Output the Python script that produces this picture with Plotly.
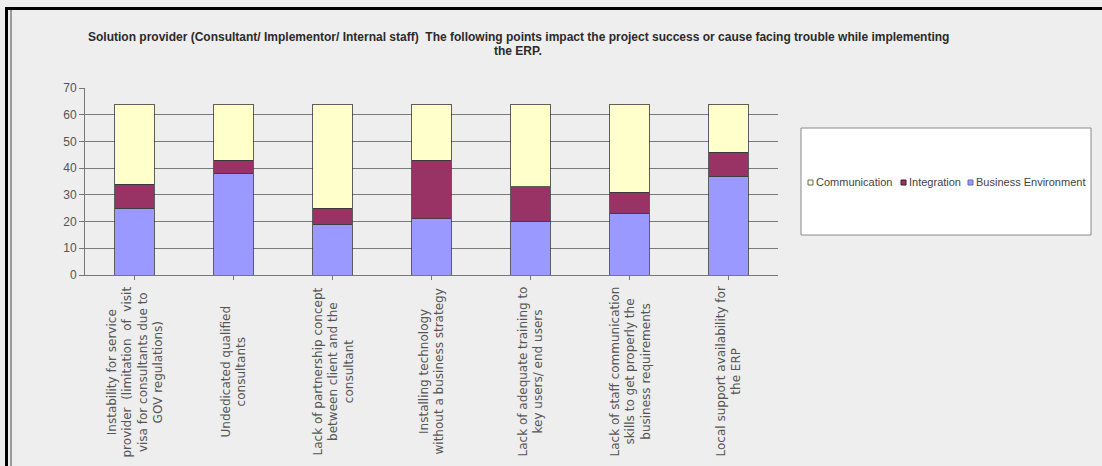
import plotly.graph_objects as go

# ---- data -------------------------------------------------------------
categories = [
    "Instability for service<br>provider  (limitation  of  visit<br>visa for consultants due to<br>GOV regulations)",
    "Undedicated qualified<br>consultants",
    "Lack of partnership concept<br>between client and the<br>consultant",
    "Installing technology<br>without a business strategy",
    "Lack of adequate training to<br>key users/ end users",
    "Lack of staff communication<br>skills to get properly the<br>business requirements",
    "Local support availability for<br>the ERP",
]
business_environment = [25, 38, 19, 21, 20, 23, 37]
integration = [9, 5, 6, 22, 13, 8, 9]
communication = [30, 21, 39, 21, 31, 33, 18]

series_names = ["Business Environment", "Integration", "Communication"]
series_values = [business_environment, integration, communication]
series_colors = ["#9999FF", "#993366", "#FFFFCC"]

y_ticks = [0, 10, 20, 30, 40, 50, 60, 70]

title_lines = [
    "Solution provider (Consultant/ Implementor/ Internal staff)  The following points "
    "impact the project success or cause facing trouble while implementing",
    "the ERP.",
]

# ---- layout geometry (pixels) ----------------------------------------
W, H = 1102, 466
PL, PR, PT, PB = 85, 778, 88, 275
FONT = "Liberation Sans"


def px_x(x):
    return (x - PL) / (PR - PL)


def px_y(y):
    return (PB - y) / (PB - PT)


fig = go.Figure()
for name, vals, col in zip(series_names, series_values, series_colors):
    fig.add_trace(go.Bar(
        x=list(range(len(categories))), y=vals, name=name,
        marker=dict(color=col, line=dict(color="#3a3a3a", width=0.8)),
        width=0.4, showlegend=False,
    ))

shapes = []
annotations = []

# category labels, rotated and centred under each bar
for i, lab in enumerate(categories):
    annotations.append(dict(
        x=i, xref="x", y=px_y(372), yref="paper", text=lab,
        textangle=-90, showarrow=False, xanchor="center", yanchor="middle",
        align="center", font=dict(family="DejaVu Sans", size=12, color="#555555"),
    ))

# title, one annotation per line
for line, ypix in zip(title_lines, [37, 51]):
    annotations.append(dict(
        x=px_x(518), xref="paper", y=px_y(ypix), yref="paper", text=line,
        showarrow=False, xanchor="center", yanchor="middle",
        font=dict(family=FONT, size=12, color="#2a2a2a", weight="bold"),
    ))

# legend box
shapes.append(dict(type="rect", xref="paper", yref="paper",
                   x0=px_x(801), x1=px_x(1091), y0=px_y(235), y1=px_y(128),
                   fillcolor="#FFFFFF", line=dict(color="#8a8a8a", width=1)))
legend_order = [2, 1, 0]
legend_x = [808, 901, 968]
legend_border = ["#666666", "#3a1a2a", "#6666aa"]
for k, idx in enumerate(legend_order):
    x0 = legend_x[k]
    shapes.append(dict(type="rect", xref="paper", yref="paper",
                       x0=px_x(x0), x1=px_x(x0 + 5), y0=px_y(185), y1=px_y(180),
                       fillcolor=series_colors[idx], line=dict(color=legend_border[k], width=1)))
    annotations.append(dict(
        x=px_x(x0 + 6), xref="paper", y=px_y(182), yref="paper",
        text=series_names[idx], showarrow=False, xanchor="left", yanchor="middle",
        font=dict(family=FONT, size=11, color="#444444"),
    ))

# outer frame lines
shapes.append(dict(type="rect", xref="paper", yref="paper",
                   x0=px_x(5), x1=px_x(W + 5), y0=px_y(10), y1=px_y(7),
                   fillcolor="#000000", line=dict(width=0)))
shapes.append(dict(type="rect", xref="paper", yref="paper",
                   x0=px_x(5), x1=px_x(8), y0=px_y(H + 5), y1=px_y(7),
                   fillcolor="#000000", line=dict(width=0)))
shapes.append(dict(type="line", xref="paper", yref="paper",
                   x0=px_x(11), x1=px_x(11), y0=px_y(H + 5), y1=px_y(10),
                   line=dict(color="#9a9a9a", width=2)))

fig.update_layout(
    width=W, height=H,
    margin=dict(l=PL, r=W - PR, t=PT, b=H - PB),
    paper_bgcolor="#EEEEEE", plot_bgcolor="#EEEEEE",
    barmode="stack", bargap=0.6,
    shapes=shapes, annotations=annotations,
    font=dict(family=FONT),
)
fig.update_xaxes(
    range=[-0.5, len(categories) - 0.5], showticklabels=False,
    tickmode="array", tickvals=list(range(len(categories))),
    tickson="boundaries", ticks="outside", ticklen=4, tickcolor="#777777",
    showline=True, linecolor="#777777", linewidth=1, showgrid=False, zeroline=False,
)
fig.update_yaxes(
    range=[0, 70], tickvals=y_ticks, ticks="outside", ticklen=5, tickcolor="#777777",
    showline=True, linecolor="#777777", linewidth=1,
    showgrid=True, gridcolor="#7a7a7a", gridwidth=1, zeroline=False,
    tickfont=dict(family=FONT, size=12, color="#555555"),
)

fig.write_html("out.html")
